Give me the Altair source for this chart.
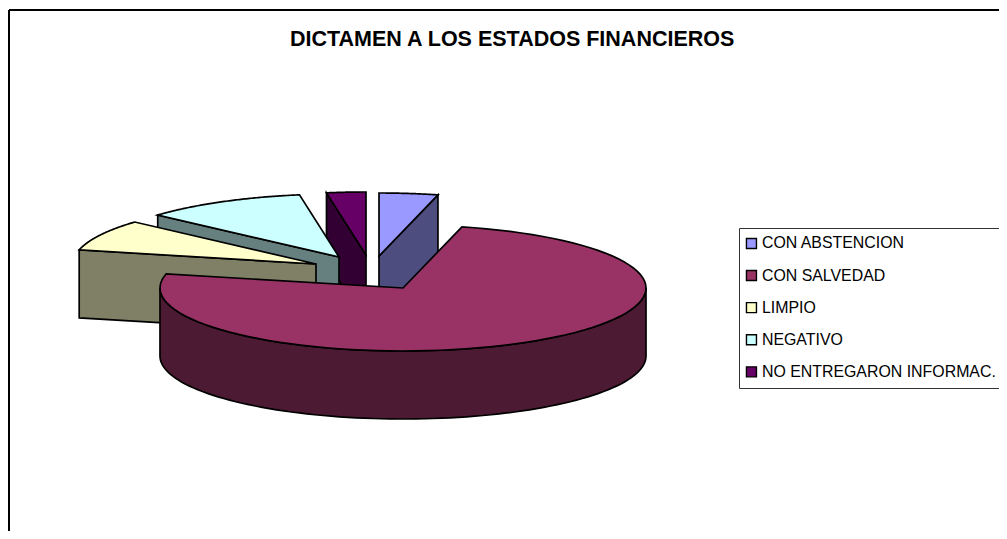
import numpy as np
import pandas as pd
import altair as alt

slices = ["CON ABSTENCION", "CON SALVEDAD", "LIMPIO", "NEGATIVO", "NO ENTREGARON INFORMAC."]
shares = [3.9, 74.7, 8.0, 10.8, 2.6]
top_colors = ["#9999FF", "#993366", "#FFFFCC", "#CCFFFF", "#660066"]
side_colors = ["#4D4D80", "#4D1A33", "#808066", "#668080", "#330033"]
title_text = "DICTAMEN A LOS ESTADOS FINANCIEROS"

apex_x = [379, 403, 316, 339, 366]
apex_y = [256, 288, 264, 257, 255]
RX, RY, DEPTH = 243, 63, 68
W, H = 999, 531
M = 8

edges = np.radians(np.cumsum([0] + shares) * 3.6)


def arc(i, a0, a1, n=90):
    t = np.linspace(a0, a1, n)
    return apex_x[i] + RX * np.sin(t), apex_y[i] - RY * np.cos(t)


def poly_top(i):
    xs, ys = arc(i, edges[i], edges[i + 1])
    return np.r_[apex_x[i], xs], np.r_[apex_y[i], ys]


def poly_cut(i, angle):
    x, y = arc(i, angle, angle, 1)
    return (np.r_[apex_x[i], x[0], x[0], apex_x[i]],
            np.r_[apex_y[i], y[0], y[0] + DEPTH, apex_y[i] + DEPTH])


def poly_rim(i, a0, a1):
    xs, ys = arc(i, a0, a1)
    return np.r_[xs, xs[::-1]], np.r_[ys, ys[::-1] + DEPTH]


x_scale = alt.Scale(domain=[M, W], range=[0, W - M], nice=False, zero=False)
y_scale = alt.Scale(domain=[M, H], range=[0, H - M], nice=False, zero=False)
fill_scale = alt.Scale(domain=slices, range=top_colors)
legend = alt.Legend(
    orient="none", legendX=731, legendY=220, title=None,
    symbolType="square", symbolSize=100, symbolStrokeColor="black", symbolStrokeWidth=1.4,
    symbolOffset=-3,
    labelFont="Liberation Sans", labelFontSize=15.9, labelColor="black", labelLimit=400,
    rowPadding=15.1, padding=7.5, labelOffset=2.5, fillColor="white",
    strokeColor="#333333", symbolOpacity=1)


def shape(xs, ys, name, side):
    df = pd.DataFrame({"x": xs, "y": ys, "k": np.arange(len(xs)), "slice": name})
    base = alt.Chart(df).mark_line(interpolate="linear-closed", stroke="black", strokeWidth=1.7, clip=False)
    enc = dict(
        x=alt.X("x:Q", scale=x_scale, axis=None),
        y=alt.Y("y:Q", scale=y_scale, axis=None),
        order=alt.Order("k:Q"),
    )
    if side:
        return base.encode(fill=alt.value(side_colors[slices.index(name)]), **enc)
    return base.encode(fill=alt.Fill("slice:N", scale=fill_scale, legend=legend), **enc)


layers = []
frame = pd.DataFrame({"x": [9, 9], "y": [10, 10], "x2": [W, 9], "y2": [10, H]})
layers.append(alt.Chart(frame).mark_rule(color="black", strokeWidth=2).encode(
    x=alt.X("x:Q", scale=x_scale, axis=None), y=alt.Y("y:Q", scale=y_scale, axis=None), x2="x2:Q", y2="y2:Q"))

i = 0
layers += [shape(*poly_cut(i, edges[1]), slices[i], True), shape(*poly_top(i), slices[i], False)]
i = 4
layers += [shape(*poly_cut(i, edges[4]), slices[i], True), shape(*poly_top(i), slices[i], False)]
i = 3
layers += [shape(*poly_cut(i, edges[3]), slices[i], True), shape(*poly_top(i), slices[i], False)]
i = 2
layers += [shape(*poly_cut(i, edges[2]), slices[i], True), shape(*poly_top(i), slices[i], False)]
i = 1
layers += [shape(*poly_rim(i, np.pi / 2, 1.5 * np.pi), slices[i], True), shape(*poly_top(i), slices[i], False)]

chart = alt.layer(*layers).properties(
    width=W - M, height=H - M, padding=0,
    autosize=alt.AutoSizeParams(type="none"),
    title=alt.TitleParams(title_text, font="Liberation Sans", fontSize=21.5, fontWeight="bold", color="black",
                          anchor="start", frame="group", dx=282, dy=42, offset=0),
).configure_view(stroke=None)

chart.save("out.html", embed_options={"renderer": "svg", "actions": False})
